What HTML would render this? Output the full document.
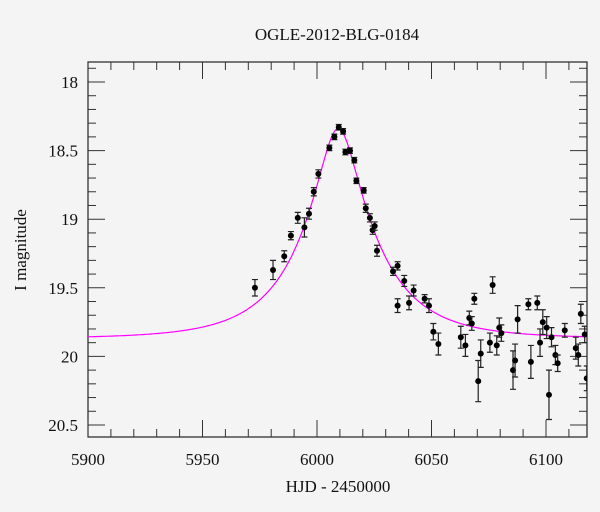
<!DOCTYPE html>
<html><head><meta charset="utf-8"><style>
body{margin:0;background:#f4f4f4}
svg{display:block}
text{font-family:"Liberation Serif","DejaVu Serif",serif;fill:#111}
</style></head><body>
<svg id="chart" width="600" height="512">
<rect width="600" height="512" fill="#f4f4f4"/>
<text x="337" y="40" font-size="17" text-anchor="middle">OGLE-2012-BLG-0184</text>
<text x="338" y="492" font-size="17" text-anchor="middle">HJD - 2450000</text>
<text transform="translate(26,250) rotate(-90)" font-size="17" text-anchor="middle">I magnitude</text>
<g id="axes"></g>
<g id="plot"></g>
</svg>
<script>
const hjd=[5972.9,5980.8,5985.7,5988.6,5991.6,5994.5,5996.5,5998.6,6000.6,6005.4,6007.6,6009.5,6011.4,6012.4,6014.4,6016.3,6017.2,6020.4,6021.3,6023.1,6024.3,6025.2,6026.2,6033.2,6035.2,6035.2,6038.1,6040.2,6042.2,6047.0,6048.9,6050.8,6053.0,6062.8,6064.8,6066.5,6067.6,6068.7,6070.4,6071.5,6075.5,6076.7,6078.5,6079.6,6080.5,6085.6,6086.5,6087.6,6092.3,6093.4,6096.2,6097.4,6098.6,6100.3,6101.3,6102.4,6104.1,6105.1,6108.2,6113.0,6114.1,6115.2,6116.9,6117.8];
const imag=[19.50,19.37,19.27,19.12,18.99,19.06,18.96,18.80,18.67,18.48,18.40,18.33,18.36,18.51,18.50,18.57,18.72,18.79,18.92,18.99,19.08,19.05,19.23,19.38,19.34,19.63,19.45,19.61,19.52,19.58,19.63,19.82,19.91,19.86,19.92,19.72,19.76,19.58,20.18,19.98,19.90,19.48,19.92,19.79,19.83,20.10,20.03,19.73,19.62,20.04,19.61,19.90,19.75,19.79,20.28,19.86,19.99,20.05,19.81,19.94,19.99,19.69,19.84,20.16];
const ierr=[0.06,0.07,0.04,0.03,0.04,0.07,0.04,0.03,0.03,0.02,0.02,0.02,0.02,0.02,0.02,0.02,0.02,0.02,0.03,0.03,0.03,0.03,0.04,0.03,0.03,0.05,0.04,0.05,0.04,0.03,0.05,0.06,0.08,0.08,0.08,0.05,0.05,0.04,0.15,0.10,0.07,0.06,0.07,0.07,0.06,0.14,0.12,0.10,0.04,0.12,0.05,0.10,0.09,0.08,0.18,0.07,0.07,0.06,0.05,0.08,0.08,0.07,0.06,0.09];
const xTicks=[5900,5950,6000,6050,6100];
const yTicks=[18,18.5,19,19.5,20,20.5];
const xTickLabels=["5900","5950","6000","6050","6100"];
const yTickLabels=["18","18.5","19","19.5","20","20.5"];
const model={t0:6009.3,u0:0.25,tE:33,base:19.87};

const L=88,R=587,T=62,B=437;
const X=t=>L+(t-5900)*2.29;
const Y=m=>82+(m-18)*137.2;
const NS="http://www.w3.org/2000/svg";
function mk(tag,attrs,parent){const e=document.createElementNS(NS,tag);for(const k in attrs)e.setAttribute(k,attrs[k]);parent.appendChild(e);return e;}
const axes=document.getElementById('axes'),plot=document.getElementById('plot');
const frame=mk('rect',{x:L,y:T,width:R-L,height:B-T,fill:'none',stroke:'#222','stroke-width':1.2},axes);


// x ticks
for(let t=5900;t<=6119;t+=10){
  const major=(t%50===0);const len=major?17:8;const x=X(t);
  const a=mk('line',{x1:x,x2:x,y1:B,y2:B-len,stroke:'#333','stroke-width':1},axes);
  
  
  const b=mk('line',{x1:x,x2:x,y1:T,y2:T+len,stroke:'#333','stroke-width':1},axes);
  
  
}
xTicks.forEach((t,i)=>{
  const tx=mk('text',{x:X(t),y:465,'font-size':17,'text-anchor':'middle'},axes);tx.textContent=xTickLabels[i];
  
  
});
for(let k=0;k<=26;k++){
  const m=17.9+k*0.1;const major=(Math.round(m*10)%5===0);const len=major?17:8;const y=Y(m);
  if(y<T||y>B)continue;
  const a=mk('line',{x1:L,x2:L+len,y1:y,y2:y,stroke:'#333','stroke-width':1},axes);
  
  
  const b=mk('line',{x1:R,x2:R-len,y1:y,y2:y,stroke:'#333','stroke-width':1},axes);
  
  
}
yTicks.forEach((m,i)=>{
  const tx=mk('text',{x:78,y:Y(m)+6,'font-size':17,'text-anchor':'end'},axes);tx.textContent=yTickLabels[i];
  
  
});
// clip
const defs=mk('defs',{},plot);const cp=mk('clipPath',{id:'cp'},defs);mk('rect',{x:L,y:T,width:R-L,height:B-T},cp);
const g=mk('g',{'clip-path':'url(#cp)'},plot);
// model
let d='';
for(let t=5900;t<=6120;t+=0.5){
  const tau=(t-model.t0)/model.tE;const u=Math.sqrt(model.u0*model.u0+tau*tau);
  const A=(u*u+2)/(u*Math.sqrt(u*u+4));const m=model.base-2.5*Math.log10(A);
  d+=(d?'L':'M')+X(t).toFixed(1)+','+Y(m).toFixed(1);
}
const curve=mk('path',{d:d,fill:'none',stroke:'#ff00ff','stroke-width':1.2},g);


// points
hjd.forEach((t,i)=>{
  const x=X(t),y=Y(imag[i]),e=ierr[i]*137.2;
  const eb=mk('path',{d:`M${x},${y-e}V${y+e}M${x-3},${y-e}H${x+3}M${x-3},${y+e}H${x+3}`,stroke:'#222','stroke-width':1.2,fill:'none'},g);
  
  
  const c=mk('circle',{cx:x,cy:y,r:3,fill:'#000'},g);
  
  
});
</script>
</body></html>
